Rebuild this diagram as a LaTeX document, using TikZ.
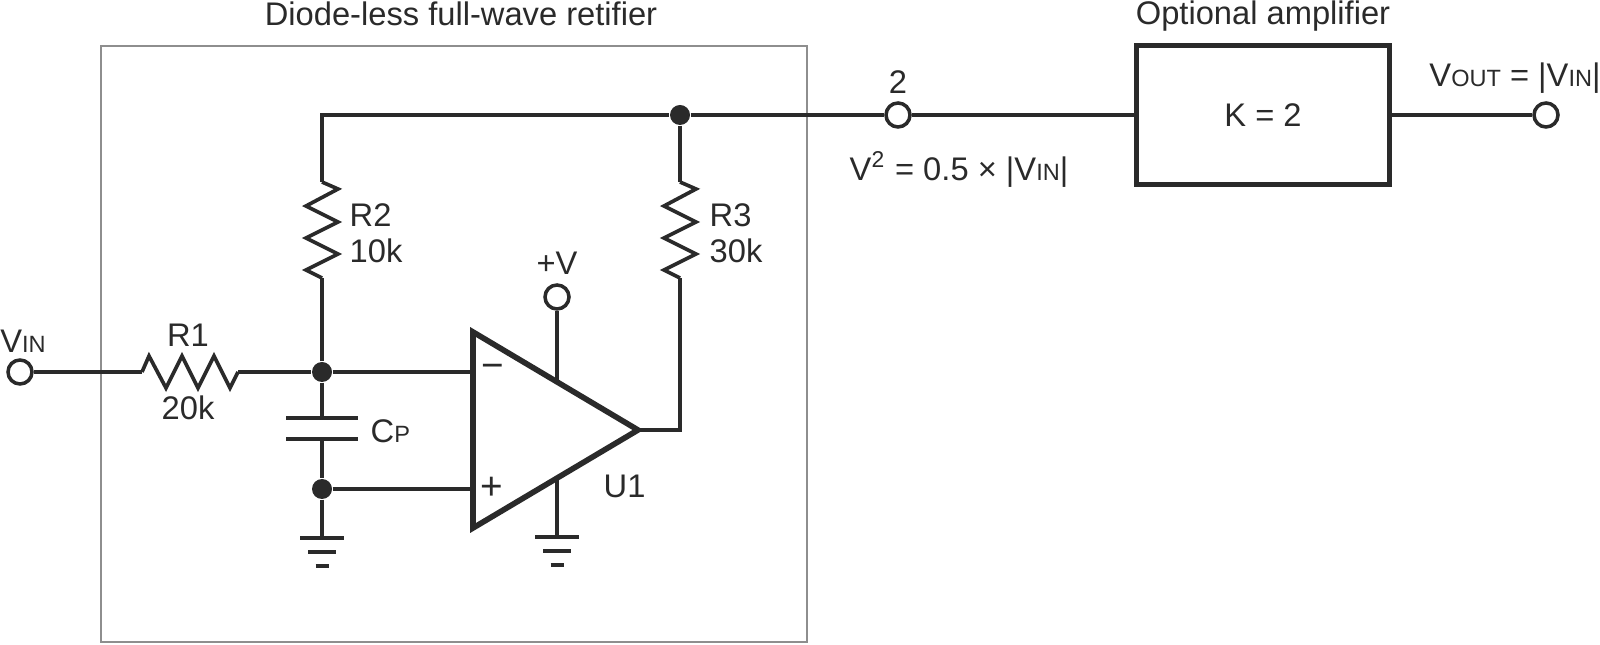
\documentclass[tikz,border=0pt]{standalone}
\usepackage{fontspec}
\setmainfont{Liberation Sans}
\newcommand{\smcap}[1]{{\fontsize{6.7}{8}\selectfont #1}}
\definecolor{ink}{HTML}{2A2A2A}
\definecolor{frame}{HTML}{8E8E8E}

\begin{document}
\begin{tikzpicture}[
		wire/.style={draw=ink, line width=1.05pt},
		heavy/.style={draw=ink, line width=1.6pt, line join=miter},
		terminal/.style={circle, draw=ink, fill=white, line width=1pt, inner sep=0, minimum size=.24cm},
		junction/.style={circle, fill=ink, inner sep=0, minimum size=.2cm},
		lbl/.style={text=ink, inner sep=0, font=\fontsize{9.3}{11}\selectfont},
		resist/.pic={
			\coordinate (-a) at (0,0);
			\coordinate (-b) at (.96,0);
			\draw [wire] (-a) -- (.07,.16) -- (.24,-.16) -- (.40,.16) -- (.56,-.16) -- (.72,.16) -- (.88,-.16) -- (-b);
		},
		gnd/.pic={
			\coordinate (-top) at (0,0);
			\draw [wire] (-.22,0) -- (.22,0);
			\draw [wire] (-.14,-.14) -- (.14,-.14);
			\draw [wire] (-.065,-.28) -- (.065,-.28);
		}]
		\useasboundingbox (0,0) rectangle (16,6.44);
		\draw [draw=frame, line width=.65pt] (1.01,.02) rectangle (8.07,5.98);

		% terminals and junctions
		\node [terminal] (Vin) at (.20,2.72) {};
		\node [terminal] (Tap) at (8.98,5.29) {};
		\node [terminal] (Vout) at (15.46,5.29) {};
		\node [terminal] (Vplus) at (5.57,3.47) {};
		\node [junction] (JTop) at (6.80,5.29) {};
		\node [junction] (JIn) at (3.22,2.72) {};
		\node [junction] (JLow) at (3.22,1.55) {};

		% amplifier block
		\node [heavy, draw, minimum width=2.53cm, minimum height=1.39cm, inner sep=0, lbl] (Amp) at (12.63,5.29) {K = 2};

		% resistors
		\path (1.42,2.72) pic (R1) {resist};
		\path (3.22,4.62) pic [rotate=-90] (R2) {resist};
		\path (6.80,4.62) pic [rotate=-90] (R3) {resist};

		% capacitor
		\coordinate (CpA) at (3.22,2.26);
		\coordinate (CpB) at (3.22,2.05);
		\draw [wire] ([xshift=-.36cm]CpA) -- ([xshift=.36cm]CpA);
		\draw [wire] ([xshift=-.36cm]CpB) -- ([xshift=.36cm]CpB);

		% op amp
		\coordinate (U1a) at (4.73,3.12);
		\coordinate (U1b) at (4.73,1.16);
		\coordinate (U1o) at (6.38,2.14);
		\coordinate (U1v) at (5.57,2.64);
		\coordinate (U1g) at (5.57,1.64);
		\draw [heavy] (U1a) -- (U1o) -- (U1b) -- cycle;
		\path (3.22,1.06) pic (G1) {gnd};
		\path (5.57,1.07) pic (G2) {gnd};

		% wiring
		\draw [wire] (Vin) -- (R1-a);
		\draw [wire] (R1-b) -- (JIn);
		\draw [wire] (JIn) -- (U1a |- JIn);
		\draw [wire] (JIn) -- (R2-b);
		\draw [wire] (JIn) -- (CpA);
		\draw [wire] (CpB) -- (JLow);
		\draw [wire] (JLow) -- (U1a |- JLow);
		\draw [wire] (JLow) -- (G1-top);
		\draw [wire] (R2-a) |- (JTop);
		\draw [wire] (JTop) -- (R3-a);
		\draw [wire] (JTop) -- (Tap);
		\draw [wire] (Tap) -- (Amp);
		\draw [wire] (Amp) -- (Vout);
		\draw [wire] (Vplus) -- (U1v);
		\draw [wire] (U1g) -- (G2-top);
		\draw [wire] (U1o) -| (R3-b);

		% labels
		\node [lbl, anchor=base] (TitleRect) at (4.61,6.18) {Diode-less full-wave retifier};
		\node [lbl, anchor=base] (TitleAmp) at (12.63,6.19) {Optional amplifier};
		\node [lbl, anchor=base] (LblTap) at (8.98,5.50) {2};
		\node [lbl, anchor=base] (LblHalf) at (9.59,4.63) {V\textsuperscript{2} = 0.5 × |V\smcap{IN}|};
		\node [lbl, anchor=base] (LblOut) at (15.15,5.57) {V\smcap{OUT} = |V\smcap{IN}|};
		\node [lbl, anchor=base] (LblIn) at (.23,2.91) {V\smcap{IN}};
		\node [lbl, anchor=base] (LblR1) at (1.88,2.97) {R1};
		\node [lbl, anchor=base] (ValR1) at (1.88,2.24) {20k};
		\node [lbl, anchor=base west] (LblR2) at (3.49,4.17) {R2};
		\node [lbl, anchor=base west] (ValR2) at (3.49,3.81) {10k};
		\node [lbl, anchor=base west] (LblR3) at (7.09,4.17) {R3};
		\node [lbl, anchor=base west] (ValR3) at (7.09,3.81) {30k};
		\node [lbl, anchor=base west] (LblCp) at (3.70,2.01) {C\smcap{P}};
		\node [lbl, anchor=base] (LblPlus) at (5.57,3.69) {+V};
		\node [lbl, anchor=base west] (LblU1) at (6.03,1.46) {U1};
		\node [lbl, font=\fontsize{11}{12}\selectfont] (SgnMinus) at (4.93,2.73) {−};
		\node [lbl, font=\fontsize{11}{12}\selectfont] (SgnPlus) at (4.92,1.56) {+};
	\end{tikzpicture}
\end{document}
